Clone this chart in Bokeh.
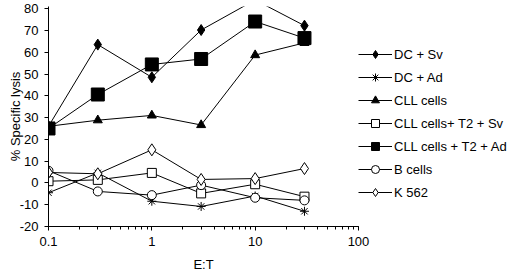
from bokeh.plotting import figure
from bokeh.models import Legend, LegendItem, CustomJSTickFormatter, Range1d
from bokeh.embed import file_html
from bokeh.resources import INLINE

et = [0.1, 0.3, 1, 3, 10, 30]
dc_sv = [26, 63.5, 48.5, 70.2, 84, 72.2]
dc_ad = [-4.5, 4.6, -8.4, -10.8, -6.0, -13.0]
cll = [26, 28.8, 31.0, 26.6, 58.7, 64.3]
cll_t2_sv = [0.8, 1.4, 4.6, -4.8, -0.6, -6.3]
cll_t2_ad = [25.0, 40.6, 54.4, 56.9, 74.1, 66.5]
b_cells = [5.6, -3.9, -5.6, -1.0, -6.8, -8.0]
k562 = [4.8, 4.2, 15.2, 1.6, 2.0, 6.6]

names = ["DC + Sv", "DC + Ad", "CLL cells", "CLL cells+ T2 + Sv",
         "CLL cells + T2 + Ad", "B cells", "K 562"]

FONT = "Liberation Sans"

p = figure(frame_width=310, frame_height=220, x_axis_type="log", output_backend="svg",
           toolbar_location=None, x_range=Range1d(0.1, 100), y_range=Range1d(-20, 81),
           min_border_left=48, min_border_right=0, min_border_top=6, min_border_bottom=48)
p.outline_line_color = None
p.xgrid.visible = False
p.ygrid.visible = False
p.background_fill_color = "white"
p.border_fill_color = "white"

series = [
    (dc_sv, "diamond", 11, "black"),
    (dc_ad, "asterisk", 9, None),
    (cll, "triangle", 9, "black"),
    (cll_t2_sv, "square", 9, "white"),
    (cll_t2_ad, "square", 13, "black"),
    (b_cells, "circle", 9, "white"),
    (k562, "diamond", 12, "white"),
]

items = []
for (ys, mk, sz, fill), name in zip(series, names):
    ln = p.line(et, ys, line_color="black", line_width=1)
    kw = dict(marker=mk, size=sz, line_color="black", line_width=1)
    if fill is None:
        kw["fill_alpha"] = 0
    else:
        kw["fill_color"] = fill
    sc = p.scatter(et, ys, **kw)
    items.append(LegendItem(label=name, renderers=[ln, sc]))

legend = Legend(items=items, location="top_left", border_line_color=None,
                background_fill_alpha=0, padding=0, margin=0, spacing=3,
                glyph_width=34, glyph_height=20, label_height=20, label_width=126,
                label_standoff=2, label_text_font=FONT, label_text_font_size="13px",
                label_text_color="black",
                title=" ", title_text_font=FONT, title_text_font_size="13px",
                title_standoff=23)
p.add_layout(legend, "right")

for ax in (p.xaxis[0], p.yaxis[0]):
    ax.axis_line_color = "black"
    ax.major_tick_line_color = "black"
    ax.minor_tick_line_color = "black"
    ax.major_tick_in = 0
    ax.major_tick_out = 4
    ax.minor_tick_in = 0
    ax.major_label_text_font = FONT
    ax.major_label_text_font_size = "13px"
    ax.major_label_text_color = "black"
    ax.axis_label_text_font = FONT
    ax.axis_label_text_font_size = "13px"
    ax.axis_label_text_font_style = "normal"
    ax.axis_label_text_color = "black"

p.xaxis.minor_tick_out = 3
p.yaxis.minor_tick_line_color = None
p.xaxis.major_label_standoff = 6
p.yaxis.major_label_standoff = 6
p.xaxis.axis_label = "E:T"
p.yaxis.axis_label = "% Specific lysis"
p.xaxis.axis_label_standoff = 8
p.yaxis.axis_label_standoff = -6
p.yaxis.ticker = list(range(-20, 81, 10))
p.xaxis.formatter = CustomJSTickFormatter(code="return String(parseFloat(tick.toPrecision(3)));")
p.yaxis.formatter = CustomJSTickFormatter(code="return String(tick).replace('\u2212', '-');")

open("out.html", "w").write(file_html(p, INLINE))
